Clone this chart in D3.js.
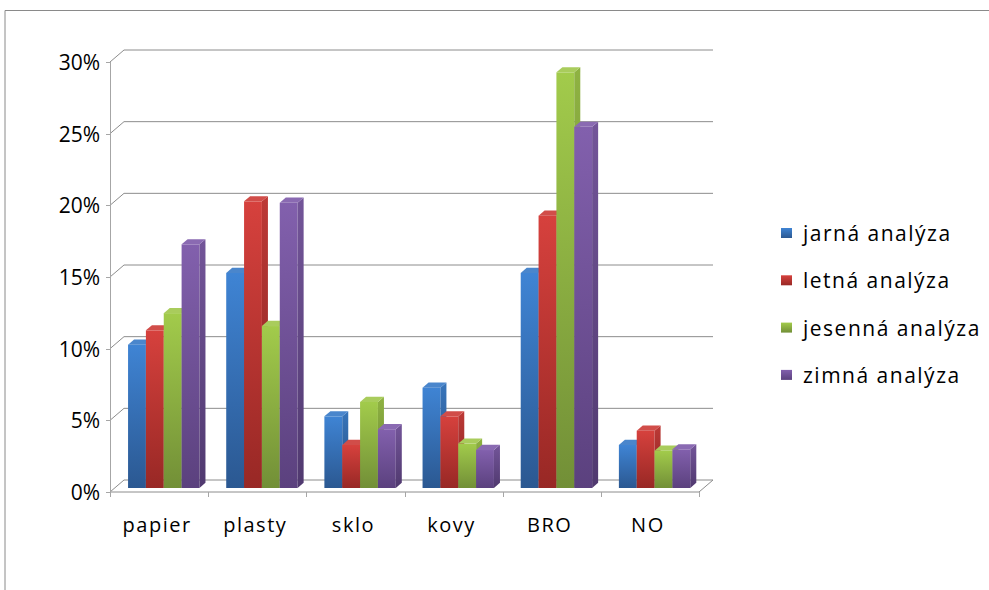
<!DOCTYPE html>
<html>
<head>
<meta charset="utf-8">
<script src="https://cdn.jsdelivr.net/npm/d3@7"></script>
<style>
  html, body { margin: 0; padding: 0; background: #fff; }
  svg { display: block; }
  text { font-family: "Open Sans", "Noto Sans", sans-serif; fill: #000; }
</style>
</head>
<body>
<svg id="chart" width="989" height="590"></svg>
<script>
// Share of waste fractions by seasonal analysis
const categories = ["papier", "plasty", "sklo", "kovy", "BRO", "NO"];
const seriesNames = ["jarná analýza", "letná analýza", "jesenná analýza", "zimná analýza"];
const jarna   = [0.10, 0.15, 0.05, 0.07, 0.15, 0.03];
const letna   = [0.11, 0.20, 0.03, 0.05, 0.19, 0.04];
const jesenna = [0.122, 0.113, 0.06, 0.031, 0.29, 0.026];
const zimna   = [0.17, 0.199, 0.041, 0.0265, 0.252, 0.027];
const yTicks  = [0, 0.05, 0.10, 0.15, 0.20, 0.25, 0.30];

const seriesValues = [jarna, letna, jesenna, zimna];
const palette = [
  { light: "#3f84d4", dark: "#2b5891", top: "#4a86cc" },
  { light: "#d6413d", dark: "#982825", top: "#d14d49" },
  { light: "#a2cb4b", dark: "#728f37", top: "#a9cc5c" },
  { light: "#8260ad", dark: "#5b417e", top: "#8a6ab2" }
];

const svg = d3.select("#chart");
const defs = svg.append("defs");
palette.forEach((c, i) => {
  const g = defs.append("linearGradient").attr("id", "front" + i)
    .attr("x1", 0).attr("y1", 0).attr("x2", 0).attr("y2", 1);
  g.append("stop").attr("offset", "0%").attr("stop-color", c.light);
  g.append("stop").attr("offset", "100%").attr("stop-color", c.dark);
  const s = defs.append("linearGradient").attr("id", "side" + i)
    .attr("x1", 0).attr("y1", 0).attr("x2", 0).attr("y2", 1);
  s.append("stop").attr("offset", "0%").attr("stop-color", d3.color(c.light).darker(0.35));
  s.append("stop").attr("offset", "100%").attr("stop-color", d3.color(c.dark).darker(0.35));
});

// Outer frame of the chart object
svg.append("path").attr("d", "M5,590 V10.5 H989")
  .attr("fill", "none").attr("stroke", "#8a8a8a").attr("stroke-width", 1);

// Plot geometry (oblique 3D): front plane and wall depth offset
const left = 110, right = 699, floorY = 492, topY = 62;
const depthX = 14, depthY = -12;
const x0 = d3.scaleBand().domain(categories).range([left, right]).padding(0);
const x1 = d3.scaleBand().domain(d3.range(seriesNames.length))
  .range([0, x0.bandwidth()]).paddingInner(0).paddingOuter(0.75);
const y = d3.scaleLinear().domain([0, 0.30]).range([floorY, topY]);

const proj = (px, py, z) => [px + z * depthX, py + z * depthY];

// Walls: gridlines on the back wall, diagonals on the side wall
const grid = svg.append("g").attr("fill", "none").attr("stroke", "#8c8c8c").attr("stroke-width", 1);
yTicks.forEach(t => {
  const a = proj(left, y(t), 0), b = proj(left, y(t), 1), c = proj(right, y(t), 1);
  grid.append("path").attr("d", d3.line()([a, b, c]));
});
// Floor front edge and right edge
const f1 = proj(left, floorY, 0), f2 = proj(right, floorY, 0), f3 = proj(right, floorY, 1);
grid.append("path").attr("d", d3.line()([f1, f2, f3]));

// Value axis at the front left edge
const axisG = svg.append("g").attr("stroke", "#a6a6a6").attr("fill", "none");
axisG.append("line").attr("x1", left + 0.5).attr("x2", left + 0.5).attr("y1", y(0.30)).attr("y2", y(0));
yTicks.forEach(t => {
  axisG.append("line").attr("x1", left - 4).attr("x2", left).attr("y1", Math.round(y(t)) + 0.5).attr("y2", Math.round(y(t)) + 0.5);
});
// Category ticks under the floor front edge
x0.domain().concat([null]).forEach((c, i) => {
  const xx = Math.round(left + i * x0.step()) + 0.5;
  axisG.append("line").attr("x1", xx).attr("x2", xx).attr("y1", floorY).attr("y2", floorY + 5);
});

svg.append("g").selectAll("text").data(yTicks).join("text")
  .attr("x", 100).attr("y", d => y(d) + 8)
  .attr("text-anchor", "end").attr("font-size", 21)
  .text(d => d3.format(".0%")(d));

svg.append("g").selectAll("text").data(categories).join("text")
  .attr("x", d => x0(d) + x0.bandwidth() / 2 - 2).attr("y", 532)
  .attr("text-anchor", "middle").attr("font-size", 20).attr("letter-spacing", 1.5)
  .text(d => d);

// Bars: front face at 1/3 depth, bar depth ~0.43 of wall depth
const zFront = 1 / 3, zBar = 0.43;
const bars = svg.append("g");
categories.forEach((cat, ci) => {
  seriesValues.forEach((vals, si) => {
    const v = vals[ci];
    const bx = x0(cat) + x1(si), bw = x1.bandwidth();
    const [xl, yt] = proj(bx, y(v), zFront);
    const [xr, yb] = proj(bx + bw, y(0), zFront);
    const dx = zBar * depthX, dy = zBar * depthY;
    const g = bars.append("g");
    g.append("rect").attr("x", xl).attr("y", yt).attr("width", xr - xl).attr("height", yb - yt)
      .attr("fill", `url(#front${si})`);
    g.append("path").attr("d", d3.line()([[xr, yt], [xr + dx, yt + dy], [xr + dx, yb + dy], [xr, yb]]) + "Z")
      .attr("fill", `url(#side${si})`);
    g.append("path").attr("d", d3.line()([[xl, yt], [xl + dx, yt + dy], [xr + dx, yt + dy], [xr, yt]]) + "Z")
      .attr("fill", palette[si].top);
  });
});

// Legend
const legend = svg.append("g").selectAll("g").data(seriesNames).join("g")
  .attr("transform", (d, i) => `translate(781, ${233 + i * 47.3})`);
legend.append("rect").attr("x", 0).attr("y", -5).attr("width", 11).attr("height", 10)
  .attr("fill", (d, i) => `url(#front${i})`);
legend.append("text").attr("x", 22).attr("y", 8)
  .attr("font-size", 21).attr("letter-spacing", 1.5)
  .text(d => d);
</script>
</body>
</html>
